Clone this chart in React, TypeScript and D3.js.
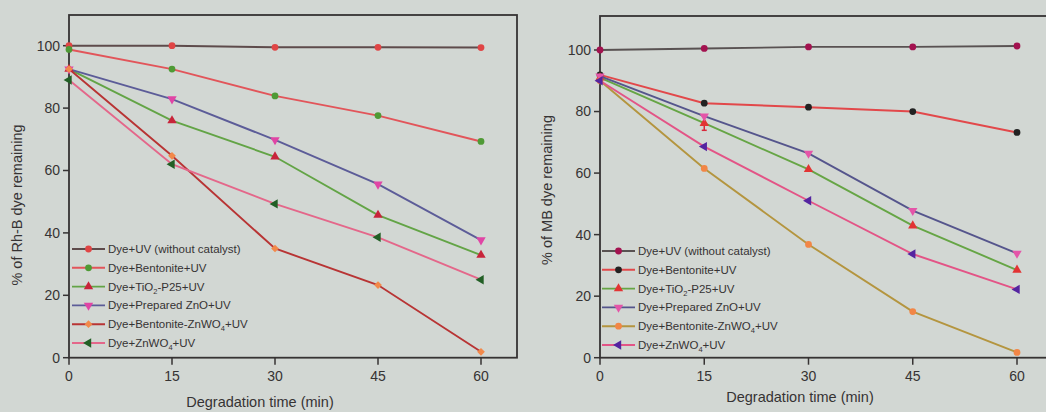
import React from "react"
import * as d3 from "d3"

// time points (min)
const times = [0, 15, 30, 45, 60]
const xTicks = [0, 15, 30, 45, 60]
const yTicks = [0, 20, 40, 60, 80, 100]

const seriesNames = [
  ["Dye+UV (without catalyst)"],
  ["Dye+Bentonite+UV"],
  ["Dye+TiO", "2", "-P25+UV"],
  ["Dye+Prepared ZnO+UV"],
  ["Dye+Bentonite-ZnWO", "4", "+UV"],
  ["Dye+ZnWO", "4", "+UV"],
]

// Rh-B panel
const rhbUV = [100, 100, 99.5, 99.5, 99.4]
const rhbBentonite = [98.8, 92.5, 83.9, 77.6, 69.3]
const rhbTiO2 = [92.5, 76, 64.4, 45.7, 32.9]
const rhbZnO = [92.5, 82.9, 69.8, 55.6, 37.7]
const rhbBentZnWO4 = [92.5, 64.7, 35, 23.3, 1.9]
const rhbZnWO4 = [89, 62, 49.3, 38.6, 25]

// MB panel
const mbUV = [100, 100.5, 101, 101, 101.3]
const mbBentonite = [91.9, 82.7, 81.4, 80, 73.2]
const mbTiO2 = [91, 76.2, 61.2, 42.9, 28.5]
const mbZnO = [91.5, 78.5, 66.4, 47.8, 33.9]
const mbBentZnWO4 = [90, 61.5, 36.8, 15, 1.7]
const mbZnWO4 = [90, 68.6, 51, 33.7, 22.2]
const mbTiO2Err = [0, 2.3, 0, 0, 0]

const bg = "#d2d7d3"
const ink = "#363333"
const font = "'Liberation Sans', Arial, sans-serif"

type Style = { line: string; marker: string; shape: string }

const rhbStyles: Style[] = [
  { line: "#5e4b4b", marker: "#e04545", shape: "circle" },
  { line: "#e2555a", marker: "#4f9a35", shape: "circle" },
  { line: "#63a446", marker: "#c8243a", shape: "up" },
  { line: "#5c5c98", marker: "#e045a5", shape: "down" },
  { line: "#b83434", marker: "#f2894a", shape: "diamond" },
  { line: "#e4678a", marker: "#225f25", shape: "left" },
]

const mbStyles: Style[] = [
  { line: "#595252", marker: "#a3124f", shape: "circle" },
  { line: "#e2484a", marker: "#222222", shape: "circle" },
  { line: "#66a545", marker: "#e23434", shape: "up" },
  { line: "#55558c", marker: "#e455a8", shape: "down" },
  { line: "#b4953f", marker: "#f28646", shape: "circle" },
  { line: "#e35486", marker: "#5424a0", shape: "left" },
]

function symbolPath(shape: string) {
  if (shape === "circle") return d3.symbol(d3.symbolCircle, 36)()
  if (shape === "diamond") return d3.symbol(d3.symbolSquare, 30)()
  return d3.symbol(d3.symbolTriangle, 38)()
}
function symbolRot(shape: string) {
  if (shape === "down") return 180
  if (shape === "left") return -90
  if (shape === "diamond") return 45
  return 0
}

type PanelProps = {
  data: number[][]
  styles: Style[]
  x0: number; x60: number; right: number
  yTop: number; y100: number; yBottom: number
  yLabel: string
  labelX: number; labelY: number
  titleX: number; titleY: number
  legendX: number; legendY: number
  errors?: number[][]
}

function Panel(p: PanelProps) {
  const x = d3.scaleLinear().domain([0, 60]).range([p.x0, p.x60])
  const y = d3.scaleLinear().domain([0, 100]).range([p.yBottom, p.y100])
  const line = d3.line<number>().x((d, i) => x(times[i])).y(d => y(d))
  const rowH = 18.8
  return (
    <g>
      <rect x={p.x0} y={p.yTop} width={p.right - p.x0} height={p.yBottom - p.yTop}
        fill="none" stroke={ink} strokeWidth={1.8} />
      {yTicks.map(t => (
        <g key={"y" + t} transform={`translate(${p.x0},${y(t)})`}>
          <line x1={-6} x2={0} stroke={ink} strokeWidth={1.5} />
          <text x={-9} dy="0.35em" textAnchor="end" fontSize={14} fill={ink}>{t}</text>
        </g>
      ))}
      {xTicks.map(t => (
        <g key={"x" + t} transform={`translate(${x(t)},${p.yBottom})`}>
          <line y1={0} y2={7} stroke={ink} strokeWidth={1.5} />
          <text y={23} textAnchor="middle" fontSize={14} fill={ink}>{t}</text>
        </g>
      ))}
      <text transform={`translate(${p.labelX},${p.labelY}) rotate(-90)`} textAnchor="middle"
        fontSize={14.5} fill={ink}>{p.yLabel}</text>
      <text x={p.titleX} y={p.titleY} textAnchor="middle" fontSize={14.5} fill={ink}>
        Degradation time (min)
      </text>
      {p.data.map((vals, si) => (
        <path key={"l" + si} d={line(vals) ?? ""} fill="none" stroke={p.styles[si].line} strokeWidth={1.9} />
      ))}
      {p.errors && p.errors.map((errs, si) => errs.map((e, i) => e > 0 ? (
        <g key={"e" + si + i} stroke="#d8283a" strokeWidth={1.5}>
          <line x1={x(times[i])} x2={x(times[i])} y1={y(p.data[si][i] - e)} y2={y(p.data[si][i] + e)} />
          <line x1={x(times[i]) - 2.5} x2={x(times[i]) + 2.5} y1={y(p.data[si][i] - e)} y2={y(p.data[si][i] - e)} />
          <line x1={x(times[i]) - 2.5} x2={x(times[i]) + 2.5} y1={y(p.data[si][i] + e)} y2={y(p.data[si][i] + e)} />
        </g>
      ) : null))}
      {p.data.map((vals, si) => vals.map((v, i) => (
        <path key={"m" + si + "-" + i} d={symbolPath(p.styles[si].shape) ?? ""}
          transform={`translate(${x(times[i])},${y(v)}) rotate(${symbolRot(p.styles[si].shape)})`}
          fill={p.styles[si].marker} />
      )))}
      {seriesNames.map((nm, si) => {
        const ly = p.legendY + si * rowH
        const st = p.styles[si]
        return (
          <g key={"lg" + si}>
            <line x1={p.legendX} x2={p.legendX + 33} y1={ly} y2={ly} stroke={st.line} strokeWidth={1.9} />
            <path d={symbolPath(st.shape) ?? ""}
              transform={`translate(${p.legendX + 16.5},${ly}) rotate(${symbolRot(st.shape)})`} fill={st.marker} />
            <text x={p.legendX + 36} y={ly} dy="0.35em" fontSize={11.5} fill={ink}>
              {nm[0]}
              {nm.length > 1 && <tspan fontSize={7.5} dy="3">{nm[1]}</tspan>}
              {nm.length > 1 && <tspan dy="-3">{nm[2]}</tspan>}
            </text>
          </g>
        )
      })}
    </g>
  )
}

export default function App() {
  return (
    <svg width={1046} height={412} style={{ position: "absolute", left: 0, top: 0 }} fontFamily={font}>
      <rect width={1046} height={412} fill={bg} />
      <Panel
        data={[rhbUV, rhbBentonite, rhbTiO2, rhbZnO, rhbBentZnWO4, rhbZnWO4]}
        styles={rhbStyles}
        x0={69} x60={481} right={517}
        yTop={15} y100={45.7} yBottom={357.7}
        yLabel="% of Rh-B dye remaining" labelX={22} labelY={205}
        titleX={260} titleY={407}
        legendX={72} legendY={249}
      />
      <Panel
        data={[mbUV, mbBentonite, mbTiO2, mbZnO, mbBentZnWO4, mbZnWO4]}
        styles={mbStyles}
        x0={600} x60={1017} right={1060}
        yTop={16} y100={50} yBottom={357.7}
        yLabel="% of MB dye remaining" labelX={552} labelY={190}
        titleX={800} titleY={402}
        legendX={602} legendY={251}
        errors={[[], [], mbTiO2Err, [], [], []]}
      />
    </svg>
  )
}
